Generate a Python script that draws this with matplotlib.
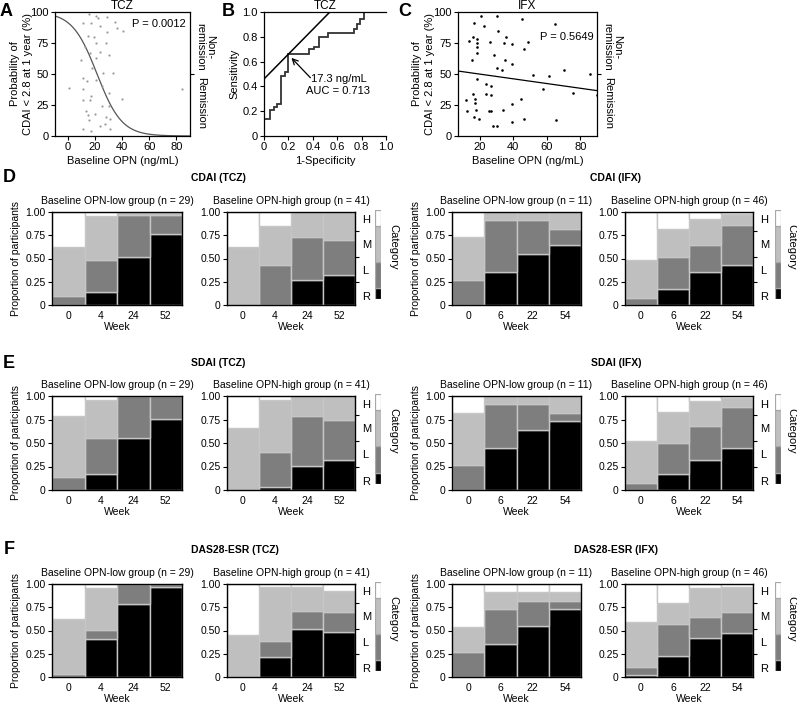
import matplotlib
matplotlib.use('Agg')
import matplotlib.pyplot as plt
import numpy as np

plt.rcParams['font.family'] = ['Liberation Sans', 'DejaVu Sans']

# ---------------- data ----------------
# Panel A (TCZ): baseline OPN vs jittered outcome, logistic fit
a_x = [15.6, 21, 28.6, 16.8, 23.7, 36, 40.5, 10.9, 28.6, 15, 21, 28, 12.6, 23.7, 30, 9.6, 21, 16,
       33.6, 26, 11.3, 0.7, 84, 21, 25, 11, 30, 17, 11.3, 16, 40, 25, 30, 14.6, 28, 31, 15.6, 23.7,
       11.3, 17, 31, 18, 13, 20, 27, 22, 35, 19, 14]
a_y = [98, 97, 96, 91, 89, 87, 85, 91, 84, 81, 75, 75, 72, 68, 65, 61, 63, 67, 51, 51, 47, 39, 38,
       45, 40, 38, 35, 32, 29, 29, 30, 24, 24, 17, 15, 14, 13, 8, 6, 4, 6, 55, 20, 18, 10, 95, 92, 80, 44]
a_fit_mid = 21.5
a_fit_slope = 0.11

# Panel B (TCZ ROC)
roc_fpr = [0, 0, 0.053, 0.053, 0.08, 0.08, 0.107, 0.107, 0.14, 0.14, 0.17, 0.17, 0.2, 0.2, 0.368, 0.368,
           0.408, 0.408, 0.448, 0.448, 0.528, 0.528, 0.736, 0.736, 0.763, 0.763, 0.79, 0.79, 0.82, 0.82, 1.0]
roc_tpr = [0, 0.14, 0.14, 0.21, 0.21, 0.23, 0.23, 0.26, 0.26, 0.48, 0.48, 0.52, 0.52, 0.665, 0.665, 0.70,
           0.70, 0.72, 0.72, 0.80, 0.80, 0.83, 0.83, 0.866, 0.866, 0.90, 0.90, 0.94, 0.94, 1.0, 1.0]
tangent_x = [0, 0.54]
tangent_y = [0.46, 1.0]

# Panel C (IFX)
c_x = [11.6, 12.6, 21, 16.6, 22.4, 16, 13.4, 18.6, 18.6, 18.6, 18.6, 15.4, 18.2, 16, 17, 17, 17.6, 16.4,
       19.6, 26, 30.2, 30.6, 28.6, 30, 24, 26.6, 24, 26.6, 25.4, 26.6, 28, 30.4, 33, 34.6, 35.6, 35, 34,
       39, 39.4, 39, 39.4, 45.4, 46.6, 48.6, 44.6, 46.6, 52, 57.6, 61.4, 65, 70, 65.6, 75.4, 86, 90]
c_y = [29, 20, 97, 91, 89, 80, 77, 78, 75, 72, 67, 61, 46, 34, 30, 27, 21, 15, 14, 76, 97, 85, 65, 55,
       42, 40, 34, 33, 20, 20, 8, 8, 53, 75, 80, 61, 21, 74, 58, 26, 11, 94, 70, 76, 30, 14, 49, 38, 48,
       90, 53, 13, 35, 50, 33]
c_reg_x = [7, 90]
c_reg_y = [52.4, 36.6]

# Mosaic panels: rows = [R, L, M, H] proportions per week
weeks_tcz = ['0', '4', '24', '52']
weeks_ifx = ['0', '6', '22', '54']
categories = ['R', 'L', 'M', 'H']

cdai_tcz_low = [[0, 0.14, 0.52, 0.76], [0.10, 0.34, 0.45, 0.21], [0.52, 0.48, 0.03, 0.03], [0.38, 0.04, 0, 0]]
cdai_tcz_high = [[0, 0, 0.27, 0.32], [0, 0.43, 0.46, 0.38], [0.62, 0.42, 0.27, 0.30], [0.38, 0.15, 0, 0]]
cdai_ifx_low = [[0, 0.36, 0.55, 0.64], [0.27, 0.55, 0.36, 0.18], [0.46, 0.09, 0.09, 0.18], [0.27, 0, 0, 0]]
cdai_ifx_high = [[0, 0.17, 0.35, 0.43], [0.07, 0.35, 0.30, 0.43], [0.41, 0.30, 0.28, 0.12], [0.52, 0.18, 0.07, 0.02]]

sdai_tcz_low = [[0, 0.17, 0.55, 0.76], [0.14, 0.38, 0.45, 0.24], [0.65, 0.41, 0, 0], [0.21, 0.04, 0, 0]]
sdai_tcz_high = [[0, 0.03, 0.26, 0.32], [0, 0.37, 0.53, 0.42], [0.66, 0.56, 0.21, 0.26], [0.34, 0.04, 0, 0]]
sdai_ifx_low = [[0, 0.45, 0.64, 0.73], [0.27, 0.46, 0.27, 0.09], [0.55, 0.09, 0.09, 0.18], [0.18, 0, 0, 0]]
sdai_ifx_high = [[0, 0.17, 0.32, 0.45], [0.07, 0.33, 0.36, 0.43], [0.45, 0.33, 0.27, 0.10], [0.48, 0.17, 0.05, 0.02]]

das_tcz_low = [[0, 0.41, 0.79, 0.97], [0.03, 0.10, 0.21, 0.03], [0.59, 0.45, 0, 0], [0.38, 0.04, 0, 0]]
das_tcz_high = [[0, 0.22, 0.52, 0.48], [0, 0.17, 0.19, 0.22], [0.45, 0.58, 0.26, 0.22], [0.55, 0.03, 0.03, 0.08]]
das_ifx_low = [[0, 0.36, 0.55, 0.73], [0.27, 0.37, 0.27, 0.09], [0.27, 0.18, 0.09, 0.09], [0.46, 0.09, 0.09, 0.09]]
das_ifx_high = [[0.02, 0.23, 0.42, 0.47], [0.09, 0.34, 0.22, 0.23], [0.48, 0.23, 0.32, 0.27], [0.41, 0.20, 0.04, 0.03]]

# ---------------- layout helpers ----------------
W, H = 797, 709
fig = plt.figure(figsize=(W / 100, H / 100), dpi=100)


def rect(l, t, r, b):
    return [l / W, 1 - b / H, (r - l) / W, (b - t) / H]


def ftxt(x, y, s, **kw):
    fig.text(x / W, 1 - y / H, s, **kw)


FS = 8
seg_colors = ['#000000', '#7e7e7e', '#bfbfbf', '#ffffff']
edge_col = '#c6c6c6'


def style_top(ax):
    ax.tick_params(direction='out', length=3, width=0.8, labelsize=FS, pad=1.5)
    for s in ax.spines.values():
        s.set_linewidth(0.9)


def right_outcome_labels(ax, ymax):
    axr = ax.twinx()
    axr.set_ylim(0, ymax)
    axr.set_yticks([ymax / 2])
    axr.set_yticklabels([''])
    axr.tick_params(axis='y', direction='out', length=3, width=0.8)
    for s in axr.spines.values():
        s.set_visible(False)
    ax.text(1.11, 0.72, 'Non-\nremission', transform=ax.transAxes, rotation=270,
            ha='center', va='center', fontsize=FS, linespacing=0.95)
    ax.text(1.08, 0.27, 'Remission', transform=ax.transAxes, rotation=270,
            ha='center', va='center', fontsize=FS)


# ---------------- Panel A ----------------
axA = fig.add_axes(rect(55, 12, 190, 136))
axA.scatter(a_x, a_y, s=2.5, color='#9a9a9a', linewidths=0, zorder=3)
xs = np.linspace(-9.5, 90, 300)
axA.plot(xs, 100 / (1 + np.exp(a_fit_slope * (xs - a_fit_mid))), color='#555555', lw=0.9)
axA.set_xlim(-9.5, 90)
axA.set_ylim(0, 100)
axA.set_xticks([0, 20, 40, 60, 80])
axA.set_yticks([0, 25, 50, 75, 100])
axA.set_yticklabels(['0', '25', '50', '75', '100'])
style_top(axA)
axA.set_title('TCZ', fontsize=FS + 0.5, pad=1)
axA.text(0.97, 0.9, 'P = 0.0012', transform=axA.transAxes, ha='right', va='center', fontsize=FS)
axA.set_xlabel('Baseline OPN (ng/mL)', fontsize=FS, labelpad=3)
axA.set_ylabel('Probability of\nCDAI < 2.8 at 1 year (%)', fontsize=FS, linespacing=1.4)
axA.yaxis.set_label_coords(-0.16, 0.5)
right_outcome_labels(axA, 100)

# ---------------- Panel B ----------------
axB = fig.add_axes(rect(264, 12, 386, 136))
axB.plot(roc_fpr, roc_tpr, color='#333333', lw=1.3, solid_joinstyle='miter')
axB.plot(tangent_x, tangent_y, color='black', lw=1.1)
axB.set_xlim(0, 1)
axB.set_ylim(0, 1)
axB.set_xticks([0, 0.2, 0.4, 0.6, 0.8, 1.0])
axB.set_xticklabels(['0', '0.2', '0.4', '0.6', '0.8', '1.0'])
axB.set_yticks([0, 0.2, 0.4, 0.6, 0.8, 1.0])
axB.set_yticklabels(['0', '0.2', '0.4', '0.6', '0.8', '1.0'])
axB.spines['right'].set_visible(False)
style_top(axB)
axB.set_title('TCZ', fontsize=FS + 0.5, pad=1)
axB.set_xlabel('1-Specificity', fontsize=FS, labelpad=3)
axB.set_ylabel('Sensitivity', fontsize=FS, labelpad=2)
axB.annotate('', xy=(0.225, 0.63), xytext=(0.38, 0.47),
             arrowprops=dict(arrowstyle='->', lw=0.9, color='black', shrinkA=0, shrinkB=0))
axB.text(0.61, 0.41, '17.3 ng/mL\nAUC = 0.713', ha='center', va='center', fontsize=FS, linespacing=1.3)

# ---------------- Panel C ----------------
axC = fig.add_axes(rect(458, 12, 597, 136))
axC.scatter(c_x, c_y, s=3.5, color='black', linewidths=0, zorder=3)
axC.plot(c_reg_x, c_reg_y, color='black', lw=0.9)
axC.set_xlim(7, 90)
axC.set_ylim(0, 100)
axC.set_xticks([20, 40, 60, 80])
axC.set_yticks([0, 25, 50, 75, 100])
style_top(axC)
axC.set_title('IFX', fontsize=FS + 0.5, pad=1)
axC.text(0.78, 0.8, 'P = 0.5649', transform=axC.transAxes, ha='center', va='center', fontsize=FS)
axC.set_xlabel('Baseline OPN (ng/mL)', fontsize=FS, labelpad=3)
axC.set_ylabel('Probability of\nCDAI < 2.8 at 1 year (%)', fontsize=FS, linespacing=1.35)
axC.yaxis.set_label_coords(-0.165, 0.5)
right_outcome_labels(axC, 100)

ftxt(6, 11, 'A', fontsize=13, fontweight='bold', ha='center', va='center')
ftxt(228, 11, 'B', fontsize=13, fontweight='bold', ha='center', va='center')
ftxt(405, 11, 'C', fontsize=13, fontweight='bold', ha='center', va='center')

# ---------------- Mosaic panels ----------------
MFS = 7.5


def mosaic(box, props, weeks, subtitle, ylabel=False, cat_labels=False):
    ax = fig.add_axes(rect(*box))
    x = np.arange(len(weeks))
    bottom = np.zeros(len(weeks))
    for vals, col in zip(props, seg_colors):
        vals = np.array(vals, dtype=float)
        for i in range(len(weeks)):
            if vals[i] > 0:
                ax.bar(x[i], vals[i], width=1.0, bottom=bottom[i], color=col,
                       edgecolor=edge_col, linewidth=1.0, zorder=1)
        bottom += vals
    ax.set_xlim(-0.5, len(weeks) - 0.5)
    ax.set_ylim(0, 1)
    ax.set_xticks(x)
    ax.set_xticklabels(weeks)
    ax.set_yticks([0, 0.25, 0.5, 0.75, 1.0])
    ax.set_yticklabels(['0', '0.25', '0.50', '0.75', '1.00'])
    ax.tick_params(axis='y', direction='out', length=3, width=0.8, labelsize=MFS, pad=1.5)
    ax.tick_params(axis='x', length=0, labelsize=MFS, pad=4)
    for s in ax.spines.values():
        s.set_linewidth(1.0)
        s.set_zorder(3)
    ax.set_xlabel('Week', fontsize=MFS, labelpad=1)
    ax.set_title(subtitle, fontsize=MFS, pad=6)
    if ylabel:
        ax.set_ylabel('Proportion of participants', fontsize=MFS, labelpad=3)
    if cat_labels:
        axr = ax.twinx()
        axr.set_ylim(0, 1)
        axr.set_yticks([0.1, 0.38, 0.66, 0.92])
        axr.set_yticklabels(categories)
        axr.set_yticks([0.25, 0.52, 0.8], minor=True)
        axr.tick_params(axis='y', which='major', length=0, pad=5, labelsize=MFS + 0.5)
        axr.tick_params(axis='y', which='minor', direction='out', length=3, width=0.8)
        for s in axr.spines.values():
            s.set_visible(False)
    return ax


def category_bar(x0, top, bottom_px, label_x):
    cb = fig.add_axes(rect(x0, top, x0 + 6, bottom_px))
    seg_h = [0.12, 0.30, 0.40, 0.18]
    b = 0
    for h, col in zip(seg_h, seg_colors):
        cb.bar(0, h, width=1, bottom=b, color=col, edgecolor='#a8a8a8', linewidth=0.9)
        b += h
    cb.set_xlim(-0.5, 0.5)
    cb.set_ylim(0, 1)
    cb.axis('off')
    ftxt(label_x, (top + bottom_px) / 2 - 8, 'Category', rotation=270, ha='center', va='center', fontsize=MFS + 0.5)


rows = [
    ('D', 212, 305, 178, 'CDAI', (cdai_tcz_low, cdai_tcz_high, cdai_ifx_low, cdai_ifx_high)),
    ('E', 396, 490, 363, 'SDAI', (sdai_tcz_low, sdai_tcz_high, sdai_ifx_low, sdai_ifx_high)),
    ('F', 584, 677, 550, 'DAS28-ESR', (das_tcz_low, das_tcz_high, das_ifx_low, das_ifx_high)),
]

for letter, top, bot, ttl_y, score, (tl, th, il, ih) in rows:
    ftxt(9, ttl_y, letter, fontsize=13, fontweight='bold', ha='center', va='center')
    ftxt(191, ttl_y, score + ' (TCZ)', fontsize=MFS, fontweight='bold', ha='left', va='center')
    ftxt(616, ttl_y, score + ' (IFX)', fontsize=MFS, fontweight='bold', ha='center', va='center')
    mosaic((52, top, 182, bot), tl, weeks_tcz, 'Baseline OPN-low group (n = 29)', ylabel=True)
    mosaic((227, top, 355, bot), th, weeks_tcz, 'Baseline OPN-high group (n = 41)', cat_labels=True)
    mosaic((452, top, 581, bot), il, weeks_ifx, 'Baseline OPN-low group (n = 11)', ylabel=True)
    mosaic((625, top, 753, bot), ih, weeks_ifx, 'Baseline OPN-high group (n = 46)', cat_labels=True)
    category_bar(375, top - 2, bot - 6, 393)
    category_bar(775, top - 2, bot - 6, 791)

fig.savefig('out.png', dpi=100)
